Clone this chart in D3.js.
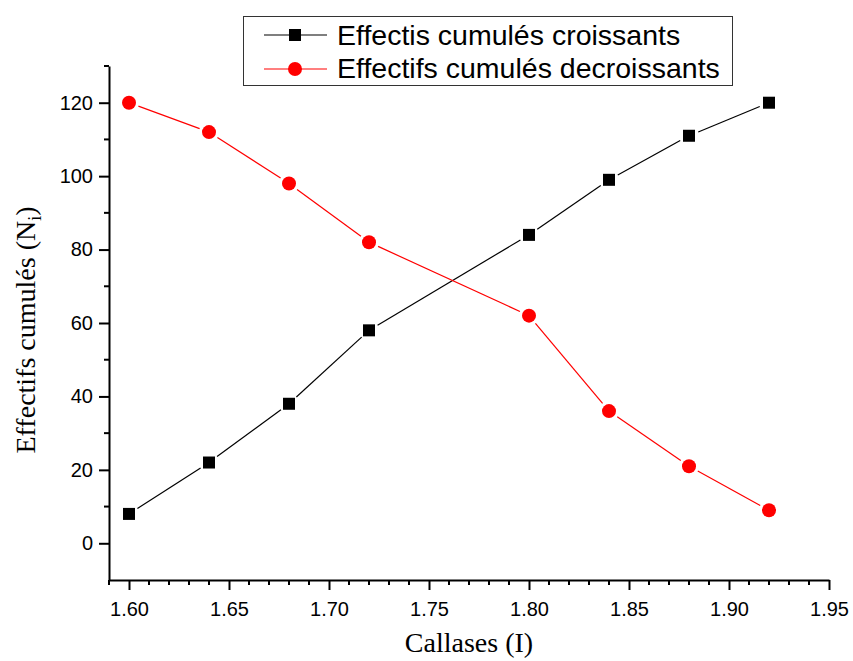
<!DOCTYPE html>
<html>
<head>
<meta charset="utf-8">
<script src="https://cdn.jsdelivr.net/npm/d3@7"></script>
<style>
  body { margin: 0; background: #fff; }
  svg { display: block; }
</style>
</head>
<body>
<svg id="chart" width="853" height="661"></svg>
<script>
// ---- data ----
const classes = [1.60, 1.64, 1.68, 1.72, 1.80, 1.84, 1.88, 1.92];
const croissants = [8, 22, 38, 58, 84, 99, 111, 120];
const decroissants = [120, 112, 98, 82, 62, 36, 21, 9];
const seriesNames = ["Effectis cumulés croissants", "Effectifs cumulés decroissants"];
const xTicks = [1.60, 1.65, 1.70, 1.75, 1.80, 1.85, 1.90, 1.95];
const yTicks = [0, 20, 40, 60, 80, 100, 120];

(function () {
const svg = d3.select("#chart");
const pLeft = 109, pRight = 829, pTop = 66, pBottom = 580;
const x = d3.scaleLinear().domain([1.59, 1.95]).range([pLeft, pRight]);
const y = d3.scaleLinear().domain([-10, 130]).range([pBottom, pTop]);
const sans = "'Liberation Sans', Arial, sans-serif";
const serif = "'Liberation Serif', 'Times New Roman', serif";

// ---- axes ----
const xMinor = d3.range(159, 196).map(v => v / 100).filter(v => !xTicks.some(t => Math.abs(t - v) < 1e-9));
const yMinor = d3.range(-10, 131, 10).filter(v => !yTicks.includes(v) && v !== -10);

const xAxisG = svg.append("g").attr("transform", `translate(0,${pBottom})`);
xAxisG.call(d3.axisBottom(x).tickValues(xTicks).tickFormat(d3.format(".2f")).tickSize(10).tickSizeOuter(0))
  .call(g => g.select(".domain").attr("stroke-width", 2))
  .call(g => g.selectAll(".tick line").attr("stroke-width", 2))
  .call(g => g.selectAll(".tick text").attr("font-family", sans).attr("font-size", 20).attr("dy", null).attr("y", 36).attr("fill", "#000"));
xAxisG.selectAll(".minor").data(xMinor).enter().append("line")
  .attr("x1", d => x(d)).attr("x2", d => x(d)).attr("y1", 0).attr("y2", 5)
  .attr("stroke", "#000").attr("stroke-width", 2);

const yAxisG = svg.append("g").attr("transform", `translate(${pLeft},0)`);
yAxisG.call(d3.axisLeft(y).tickValues(yTicks).tickSize(10).tickSizeOuter(0))
  .call(g => g.select(".domain").attr("stroke-width", 2))
  .call(g => g.selectAll(".tick line").attr("stroke-width", 2))
  .call(g => g.selectAll(".tick text").attr("font-family", sans).attr("font-size", 20).attr("x", -16).attr("fill", "#000"));
yAxisG.selectAll(".minor").data(yMinor).enter().append("line")
  .attr("x1", 0).attr("x2", -5).attr("y1", d => y(d)).attr("y2", d => y(d))
  .attr("stroke", "#000").attr("stroke-width", 2);

// ---- axis titles ----
svg.append("text").attr("x", (pLeft + pRight) / 2).attr("y", 652)
  .attr("text-anchor", "middle").attr("font-family", serif)
  .attr("font-size", 28).text("Callases (I)");

const yl = svg.append("text").attr("transform", "translate(35,330) rotate(-90)")
  .attr("text-anchor", "middle").attr("font-family", serif)
  .attr("font-size", 28);
yl.append("tspan").text("Effectifs cumulés (N");
yl.append("tspan").attr("font-size", 18).attr("dy", 6).text("i");
yl.append("tspan").attr("dy", -6).text(")");

// ---- series ----
function drawSeries(vals, color, gap) {
  const pts = classes.map((c, i) => [x(c), y(vals[i])]);
  const g = svg.append("g");
  for (let i = 0; i < pts.length - 1; i++) {
    const [x1, y1] = pts[i], [x2, y2] = pts[i + 1];
    const L = Math.hypot(x2 - x1, y2 - y1);
    const ux = (x2 - x1) / L, uy = (y2 - y1) / L;
    g.append("line")
      .attr("x1", x1 + ux * gap).attr("y1", y1 + uy * gap)
      .attr("x2", x2 - ux * gap).attr("y2", y2 - uy * gap)
      .attr("stroke", color).attr("stroke-width", 1.2);
  }
  return { g, pts };
}
const s1 = drawSeries(croissants, "#000", 10);
s1.g.selectAll("rect").data(s1.pts).enter().append("rect")
  .attr("x", d => d[0] - 6).attr("y", d => d[1] - 6).attr("width", 12).attr("height", 12).attr("fill", "#000");
const s2 = drawSeries(decroissants, "#ff0000", 10);
s2.g.selectAll("circle").data(s2.pts).enter().append("circle")
  .attr("cx", d => d[0]).attr("cy", d => d[1]).attr("r", 7).attr("fill", "#ff0000");

// ---- legend ----
const lg = svg.append("g");
lg.append("rect").attr("x", 243.5).attr("y", 16.5).attr("width", 489).attr("height", 69)
  .attr("fill", "#fff").attr("stroke", "#333").attr("stroke-width", 1);
const rows = [{ name: seriesNames[0], color: "#000", shape: "square", cy: 35, base: 45 },
              { name: seriesNames[1], color: "#ff0000", shape: "circle", cy: 69, base: 78 }];
rows.forEach(r => {
  lg.append("line").attr("x1", 264).attr("x2", 327).attr("y1", r.cy).attr("y2", r.cy)
    .attr("stroke", r.color).attr("stroke-width", 1.2);
  if (r.shape === "square") {
    lg.append("rect").attr("x", 289).attr("y", r.cy - 6).attr("width", 12).attr("height", 12).attr("fill", r.color);
  } else {
    lg.append("circle").attr("cx", 295).attr("cy", r.cy).attr("r", 7).attr("fill", r.color);
  }
  lg.append("text").attr("x", 337).attr("y", r.base).attr("font-family", sans)
    .attr("font-size", 28.5).text(r.name);
});
})();
</script>
</body>
</html>
